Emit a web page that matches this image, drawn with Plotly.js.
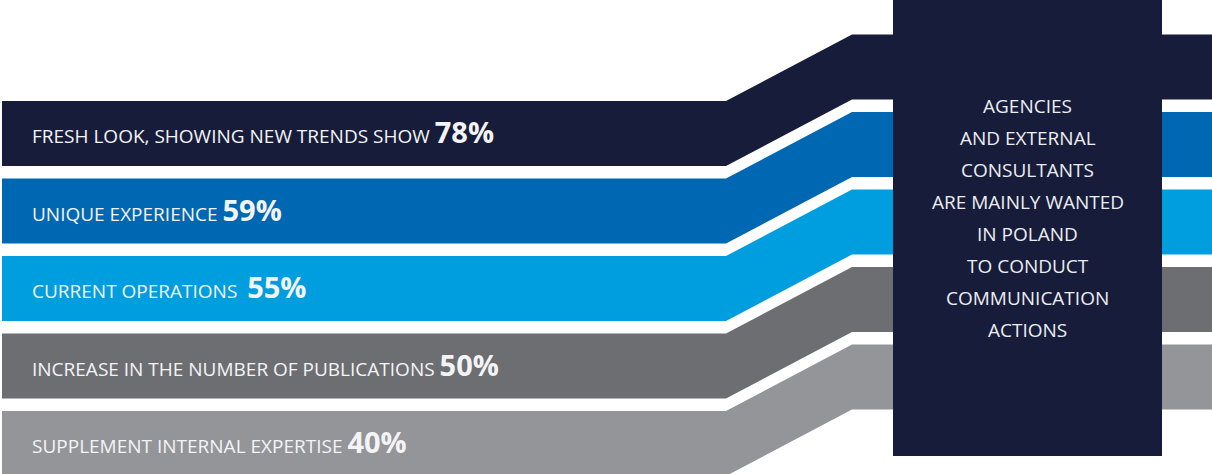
<!DOCTYPE html>
<html>
<head>
<meta charset="utf-8">
<script src="https://cdn.plot.ly/plotly-3.0.1.min.js"></script>
<style>
  html, body { margin: 0; padding: 0; background: #ffffff; }
  #chart { width: 1212px; height: 474px; }
</style>
</head>
<body>
<div id="chart"></div>
<script>
// ---- data ----
const labels = [
  "FRESH LOOK, SHOWING NEW TRENDS SHOW",
  "UNIQUE EXPERIENCE",
  "CURRENT OPERATIONS",
  "INCREASE IN THE NUMBER OF PUBLICATIONS",
  "SUPPLEMENT INTERNAL EXPERTISE"
];
const values = [78, 59, 55, 50, 40];
const bandColors = ["#161c39", "#0067b2", "#009ddf", "#6d6e72", "#939598"];
const boxLines = [
  "AGENCIES",
  "AND EXTERNAL",
  "CONSULTANTS",
  "ARE MAINLY WANTED",
  "IN POLAND",
  "TO CONDUCT",
  "COMMUNICATION",
  "ACTIONS"
];

// ---- layout geometry (pixel-like axis units) ----
const W = 1212, H = 474;
const leftX0 = 2, slantX0 = 726, slantX1 = 852;
const firstTop = 101, step = 77.5, bandH = 65, rise = 66.5;
const box = {x0: 893, x1: 1162, y0: 0, y1: 456, color: "#161c39"};
const fontFam = "'Open Sans', 'Noto Sans', sans-serif";

const traces = [];
const annotations = [];

labels.forEach((lab, i) => {
  const top = firstTop + i * step;
  const bot = top + bandH;
  const xs = [leftX0, slantX0, slantX1, W, W, slantX1, slantX0, leftX0, leftX0];
  const ys = [top, top, top - rise, top - rise, bot - rise, bot - rise, bot, bot, top];
  traces.push({
    type: "scatter", mode: "lines", x: xs, y: ys,
    fill: "toself", fillcolor: bandColors[i],
    line: {width: 0, color: bandColors[i]},
    hoverinfo: "skip", showlegend: false
  });
  const gap = (i === 2) ? "&nbsp; " : " ";
  annotations.push({
    x: 29.5, y: top + bandH / 2 - 2, xref: "x", yref: "y",
    xanchor: "left", yanchor: "middle", showarrow: false,
    text: lab + gap + '<b><span style="font-size:29px">' + values[i] + '%</span></b>',
    font: {family: fontFam, size: 19, color: "#f4f4f6"}
  });
});

// right dark box
traces.push({
  type: "scatter", mode: "lines",
  x: [box.x0, box.x1, box.x1, box.x0, box.x0],
  y: [box.y0, box.y0, box.y1, box.y1, box.y0],
  fill: "toself", fillcolor: box.color,
  line: {width: 0, color: box.color},
  hoverinfo: "skip", showlegend: false
});

boxLines.forEach((ln, j) => {
  annotations.push({
    x: (box.x0 + box.x1) / 2, y: 106 + 32 * j, xref: "x", yref: "y",
    xanchor: "center", yanchor: "middle", showarrow: false,
    text: ln,
    font: {family: fontFam, size: 19, color: "#eceef2"}
  });
});

const layout = {
  width: W, height: H,
  margin: {l: 0, r: 0, t: 0, b: 0, pad: 0},
  paper_bgcolor: "#ffffff", plot_bgcolor: "#ffffff",
  xaxis: {range: [0, W], visible: false, fixedrange: true},
  yaxis: {range: [H, 0], visible: false, fixedrange: true},
  annotations: annotations,
  showlegend: false
};

Plotly.newPlot("chart", traces, layout, {displayModeBar: false, staticPlot: true});
</script>
</body>
</html>
